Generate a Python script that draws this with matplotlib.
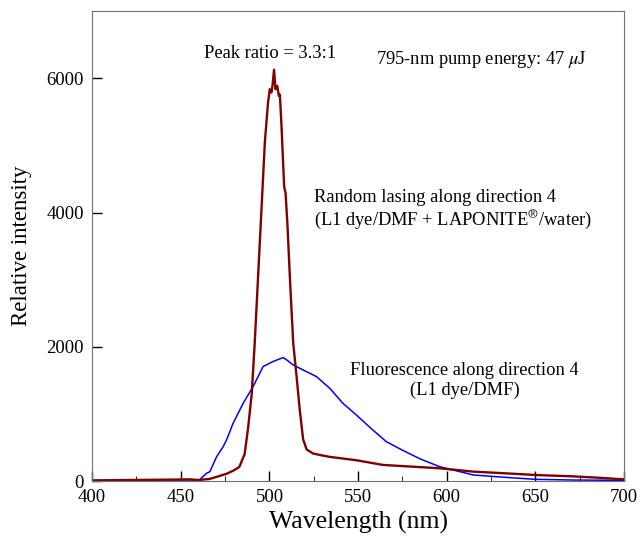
# random lasing vs fluorescence spectra

import matplotlib
matplotlib.use("Agg")
import matplotlib.pyplot as plt
from matplotlib.ticker import MultipleLocator

plt.rcParams['font.family'] = ['Liberation Serif', 'DejaVu Serif']
plt.rcParams['mathtext.fontset'] = 'stix'

# lasing spectrum (dark red)
lasing_wl = [400, 420, 440, 455, 460, 466, 470, 476, 480, 483, 486, 488, 490,
             491.7, 493.6, 495.5, 497.4, 499.2, 500.2, 501.1, 501.7, 502.6,
             503.4, 504.4, 505.3, 505.9, 506.8, 508.3, 509.1, 510.2, 511.5,
             513.4, 515.3, 517.1, 519, 521, 524.6, 530, 534, 549, 564, 580,
             596, 615, 633, 650, 671, 685, 700]
lasing_val = [10, 15, 20, 25, 15, 30, 60, 110, 160, 210, 400, 800, 1300,
              2060, 3050, 4045, 5045, 5640, 5840, 5790, 5890, 6130,
              5840, 5890, 5740, 5760, 5290, 4390, 4290, 3800, 3050,
              2060, 1560, 1060, 620, 470, 410, 380, 360, 310, 240, 215,
              190, 140, 115, 90, 70, 50, 25]

# fluorescence spectrum (blue)
fluo_wl = [400, 459.7, 461, 464.5, 466.4, 470.2, 473.9, 475.8, 479.5, 485.2,
           490.8, 496.4, 502, 507.7, 510, 513.3, 518.9, 526.5, 534, 541.4,
           549, 558.3, 565.9, 575, 585, 596, 615, 633, 650, 671, 700]
fluo_val = [0, 0, 30, 115, 139, 363, 512, 612, 861, 1160,
            1408, 1706, 1781, 1840, 1800, 1731, 1657, 1557, 1383, 1160,
            985, 761, 587, 460, 330, 214, 90, 55, 25, 15, 10]

fig = plt.figure(figsize=(6.4, 5.42), dpi=100)
ax = fig.add_axes([0.144, 0.1125, 0.831, 0.8665])

ax.plot(fluo_wl, fluo_val, color="#0000ff", lw=1.1)
ax.plot(lasing_wl, lasing_val, color="#800000", lw=1.7)

ax.set_xlim(400, 700)
ax.set_ylim(0, 7000)
ax.xaxis.set_major_locator(MultipleLocator(50))
ax.xaxis.set_minor_locator(MultipleLocator(25))
ax.set_yticks([0, 2000, 4000, 6000])
ax.tick_params(direction="in", labelsize=13.5, length=7, width=1, pad=6)
ax.tick_params(axis="x", which="minor", direction="in", length=3.5)
for s in ax.spines.values():
    s.set_color("#707070")

ax.set_xlabel("Wavelength (nm)", fontsize=18.5, labelpad=3)
ax.set_ylabel("Relative intensity", fontsize=16.5, labelpad=10)

ax.text(500.2, 6370, "Peak ratio = 3.3:1", fontsize=13.3, ha="center", va="center")
ax.text(619.8, 6280, r"795-nm pump energy: 47 $\mu$J", fontsize=13.3, ha="center", va="center")
ax.text(525, 4040, "Random lasing along direction 4\n"
        r"(L1 dye/DMF + LAPONITE$^{\circledR}$/water)",
        fontsize=13.3, ha="left", va="center", linespacing=1.2)
ax.text(610, 1500, "Fluorescence along direction 4\n(L1 dye/DMF)",
        fontsize=13.3, ha="center", va="center", linespacing=1.2)

fig.savefig("out.png", dpi=100)
